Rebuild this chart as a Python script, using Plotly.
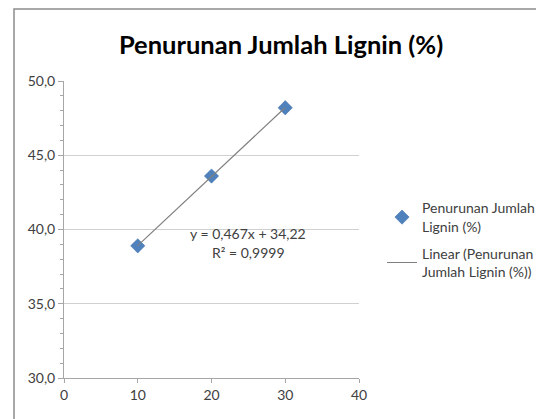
import numpy as np
import plotly.graph_objects as go

x_vals = [10, 20, 30]
y_vals = [38.9, 43.6, 48.2]
series_name = "Penurunan Jumlah<br>Lignin (%)"
trend_name = "Linear (Penurunan<br>Jumlah Lignin (%))"
title_text = "Penurunan Jumlah Lignin (%)"
eq_text = "y = 0,467x + 34,22"
r2_text = "R² = 0,9999"
y_ticks = [30, 35, 40, 45, 50]
x_ticks = [0, 10, 20, 30, 40]

slope, intercept = np.polyfit(x_vals, y_vals, 1)
tx = [min(x_vals), max(x_vals)]
ty = [slope * v + intercept for v in tx]

FONT = "Lato"
fig = go.Figure()
fig.add_trace(go.Scatter(
    x=x_vals, y=y_vals, mode="markers", name=series_name, legendgroup="a",
    marker=dict(symbol="diamond", size=11, color="#4F81BD",
                line=dict(color="#3A6AA6", width=0.5)),
))
fig.add_trace(go.Scatter(
    x=tx, y=ty, mode="lines", name=trend_name, legendgroup="b",
    line=dict(color="#7F7F7F", width=1.2),
))

fig.update_layout(
    width=544, height=419,
    margin=dict(l=56, r=193, t=73, b=49),
    paper_bgcolor="white", plot_bgcolor="white",
    separators=",.",
    font=dict(family=FONT, color="#404040", size=14),
    title=dict(text="<b>" + title_text + "</b>", x=0.502, xanchor="center",
               y=0.912, yanchor="middle",
               font=dict(family=FONT, size=25.5, color="#000000")),
    showlegend=True,
    legend=dict(x=1.078, y=0.465, xanchor="left", yanchor="middle",
                font=dict(family=FONT, size=14, color="#404040"),
                itemwidth=30, tracegroupgap=6, traceorder="grouped",
                bgcolor="rgba(0,0,0,0)"),
    xaxis=dict(range=[0, 40], tickvals=x_ticks, showgrid=False,
               showline=True, linecolor="#A6A6A6", linewidth=1,
               ticks="outside", ticklen=4, tickcolor="#A6A6A6",
               zeroline=False, tickfont=dict(size=14, color="#404040")),
    yaxis=dict(range=[30, 50], tickvals=y_ticks, tickformat=".1f",
               showgrid=True, gridcolor="#D0D0D0", gridwidth=1,
               showline=True, linecolor="#A6A6A6", linewidth=1,
               ticks="outside", ticklen=5, tickcolor="#A6A6A6",
               minor=dict(dtick=1, ticks="outside", ticklen=3,
                          tickcolor="#A6A6A6", showgrid=False),
               zeroline=False, tickfont=dict(size=14, color="#404040")),
    annotations=[
        dict(x=24.95, y=39.76, xref="x", yref="y", text=eq_text, showarrow=False,
             font=dict(family=FONT, size=14, color="#404040")),
        dict(x=24.95, y=38.42, xref="x", yref="y", text=r2_text, showarrow=False,
             font=dict(family=FONT, size=14, color="#404040")),
    ],
    shapes=[dict(type="rect", xref="paper", yref="paper",
                 x0=-0.1695, y0=-0.3, x1=1.8, y1=1.2424,
                 line=dict(color="#8C8C8C", width=1.5))],
)

fig.write_html("out.html")
